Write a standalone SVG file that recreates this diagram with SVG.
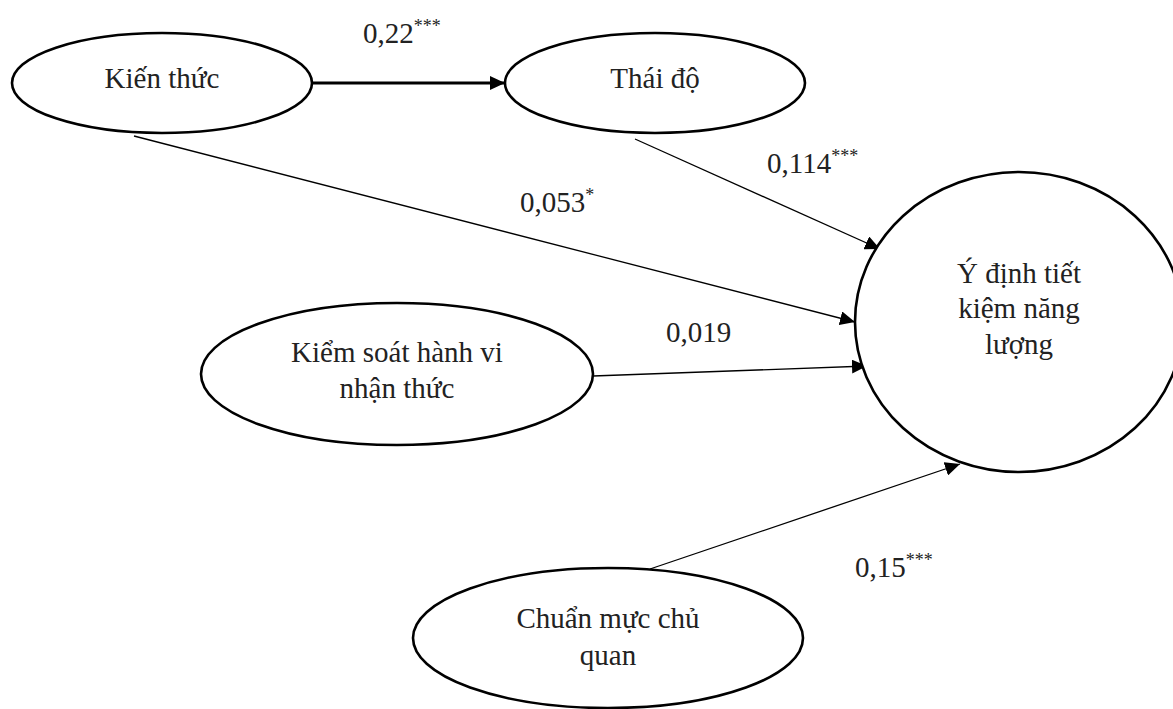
<svg xmlns="http://www.w3.org/2000/svg" width="1173" height="709" viewBox="0 0 1173 709">
  <style>
    .node { fill: #ffffff; stroke: #000000; stroke-width: 2.6; }
    .lbl { font-family: "Liberation Serif", "Times New Roman", serif; font-size: 29px; fill: #222222; text-anchor: middle; }
    .coef { font-family: "Liberation Serif", "Times New Roman", serif; font-size: 29px; fill: #222222; }
    .sup { font-size: 18px; }
    .edge { stroke: #000000; stroke-width: 1.3; fill: none; marker-end: url(#arrow); }
    .edge-thick { stroke: #000000; stroke-width: 3.2; fill: none; marker-end: url(#arrow); }
  </style>
  <defs>
    <marker id="arrow" markerUnits="userSpaceOnUse" markerWidth="16" markerHeight="14" refX="15" refY="7" orient="auto">
      <path d="M0,0 L15,7 L0,14 Z" fill="#000000"/>
    </marker>
  </defs>
  <rect x="0" y="0" width="1173" height="709" fill="#ffffff"/>

  <g id="connectors">
    <line class="edge-thick" x1="313" y1="83" x2="505" y2="83"/>
    <line class="edge" x1="134" y1="136" x2="855" y2="322"/>
    <line class="edge" x1="635" y1="139" x2="880" y2="249"/>
    <line class="edge" x1="593" y1="376" x2="867" y2="366"/>
    <line class="edge" x1="650" y1="569" x2="960" y2="464"/>
    <text class="coef" x="363" y="43">0,22<tspan class="sup" dy="-11">***</tspan></text>
    <text class="coef" x="520" y="212">0,053<tspan class="sup" dy="-11">*</tspan></text>
    <text class="coef" x="767" y="173">0,114<tspan class="sup" dy="-11">***</tspan></text>
    <text class="coef" x="666" y="342">0,019</text>
    <text class="coef" x="855" y="577">0,15<tspan class="sup" dy="-11">***</tspan></text>
  </g>

  <g id="kien-thuc">
    <ellipse class="node" cx="162" cy="83" rx="150" ry="50"/>
    <text class="lbl" x="162" y="88">Kiến thức</text>
  </g>

  <g id="thai-do">
    <ellipse class="node" cx="655" cy="83" rx="150" ry="50"/>
    <text class="lbl" x="655" y="88">Thái độ</text>
  </g>

  <g id="kiem-soat">
    <ellipse class="node" cx="397" cy="374" rx="196" ry="71"/>
    <text class="lbl" x="397" y="362">Kiểm soát hành vi</text>
    <text class="lbl" x="397" y="398">nhận thức</text>
  </g>

  <g id="chuan-muc">
    <ellipse class="node" cx="608" cy="638" rx="195" ry="70"/>
    <text class="lbl" x="608" y="628">Chuẩn mực chủ</text>
    <text class="lbl" x="608" y="665">quan</text>
  </g>

  <g id="y-dinh">
    <ellipse class="node" cx="1019" cy="322" rx="164" ry="150"/>
    <text class="lbl" x="1019" y="283">Ý định tiết</text>
    <text class="lbl" x="1019" y="318">kiệm năng</text>
    <text class="lbl" x="1019" y="354">lượng</text>
  </g>
</svg>
